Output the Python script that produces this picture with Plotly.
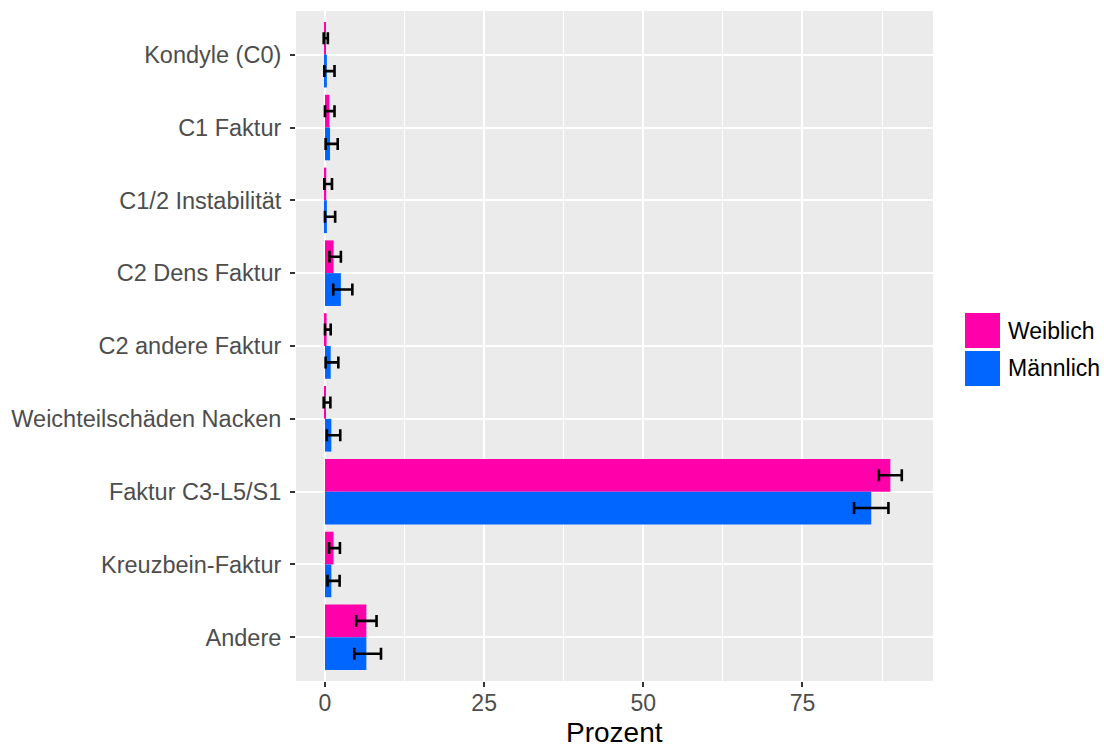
import plotly.graph_objects as go

# Fracture categories (top to bottom)
categories = [
    "Kondyle (C0)",
    "C1 Faktur",
    "C1/2 Instabilität",
    "C2 Dens Faktur",
    "C2 andere Faktur",
    "Weichteilschäden Nacken",
    "Faktur C3-L5/S1",
    "Kreuzbein-Faktur",
    "Andere",
]

series_names = ["Weiblich", "Männlich"]
series_colors = ["#FF00AA", "#0066FF"]

# Percentages with lower / upper confidence bounds
weiblich = [0.1, 0.7, 0.2, 1.35, 0.25, 0.15, 88.8, 1.35, 6.5]
weiblich_low = [-0.2, 0.0, -0.1, 0.7, 0.0, -0.2, 87.0, 0.65, 4.9]
weiblich_high = [0.45, 1.5, 1.1, 2.5, 0.9, 0.85, 90.6, 2.35, 8.1]

maennlich = [0.3, 0.8, 0.3, 2.5, 0.9, 1.0, 85.8, 1.0, 6.5]
maennlich_low = [-0.1, 0.1, 0.0, 1.3, 0.1, 0.3, 83.1, 0.4, 4.6]
maennlich_high = [1.5, 2.0, 1.6, 4.3, 2.1, 2.4, 88.5, 2.3, 8.8]

x_ticks = [0, 25, 50, 75]
x_title = "Prozent"

W, H = 1104, 749
L, R, T, B = 296, 171, 11, 68
FONT = "Liberation Sans, Arial, sans-serif"

fig = go.Figure()
for name, color, vals, lo, hi in [
    (series_names[0], series_colors[0], weiblich, weiblich_low, weiblich_high),
    (series_names[1], series_colors[1], maennlich, maennlich_low, maennlich_high),
]:
    fig.add_trace(go.Bar(
        y=categories,
        x=vals,
        name=name,
        orientation="h",
        marker=dict(color=color, line=dict(width=0)),
        error_x=dict(
            type="data",
            symmetric=False,
            array=[h - v for h, v in zip(hi, vals)],
            arrayminus=[v - l for v, l in zip(vals, lo)],
            color="black",
            thickness=2.6,
            width=6,
        ),
        showlegend=False,
    ))

pw = W - L - R
ph = H - T - B


def px_to_paper_x(px):
    return (px - L) / pw


def px_to_paper_y(py):
    return (H - B - py) / ph


# Legend keys drawn as large squares beside the panel
legend_tops = [313, 351]
for name, color, top in zip(series_names, series_colors, legend_tops):
    fig.add_shape(
        type="rect", xref="paper", yref="paper",
        x0=px_to_paper_x(965), x1=px_to_paper_x(1000),
        y0=px_to_paper_y(top + 35), y1=px_to_paper_y(top),
        fillcolor=color, line=dict(width=0), layer="above",
    )
    fig.add_annotation(
        xref="paper", yref="paper",
        x=px_to_paper_x(1006), y=px_to_paper_y(top + 17.5),
        text=name, showarrow=False, xanchor="left", yanchor="middle",
        font=dict(family=FONT, size=23, color="black"),
    )

# x-axis title below the tick labels, kept inside the page
fig.add_annotation(
    xref="paper", yref="paper",
    x=0.5, y=px_to_paper_y(H - 0.5),
    text=x_title, showarrow=False, xanchor="center", yanchor="bottom",
    borderpad=0,
    font=dict(family=FONT, size=28, color="black"),
)

fig.update_layout(
    width=W, height=H,
    margin=dict(l=L, r=R, t=T, b=B, autoexpand=False),
    paper_bgcolor="white",
    plot_bgcolor="#EBEBEB",
    barmode="group",
    bargap=0.1,
    bargroupgap=0,
    showlegend=False,
    font=dict(family=FONT, size=23, color="#4D4D4D"),
)

fig.update_xaxes(
    range=[-4.55, 95.5],
    tickvals=x_ticks,
    ticktext=[str(v) for v in x_ticks],
    showgrid=True, gridcolor="white", gridwidth=1.6,
    zeroline=False,
    ticks="outside", ticklen=5, tickwidth=1.6, tickcolor="#333333",
    tickfont=dict(size=23, color="#4D4D4D"),
    ticklabelstandoff=-4,
    minor=dict(dtick=12.5, tick0=0, showgrid=True, gridcolor="white", gridwidth=0.8, ticks=""),
    showline=False,
    automargin=False,
)

fig.update_yaxes(
    categoryorder="array",
    categoryarray=categories,
    range=[len(categories) - 0.4, -0.6],
    showgrid=True, gridcolor="white", gridwidth=1.6,
    ticks="outside", ticklen=5, tickwidth=1.6, tickcolor="#333333",
    tickfont=dict(size=23.5, color="#4D4D4D"),
    ticklabelstandoff=4,
    showline=False,
    automargin=False,
)

fig.write_html("out.html")
